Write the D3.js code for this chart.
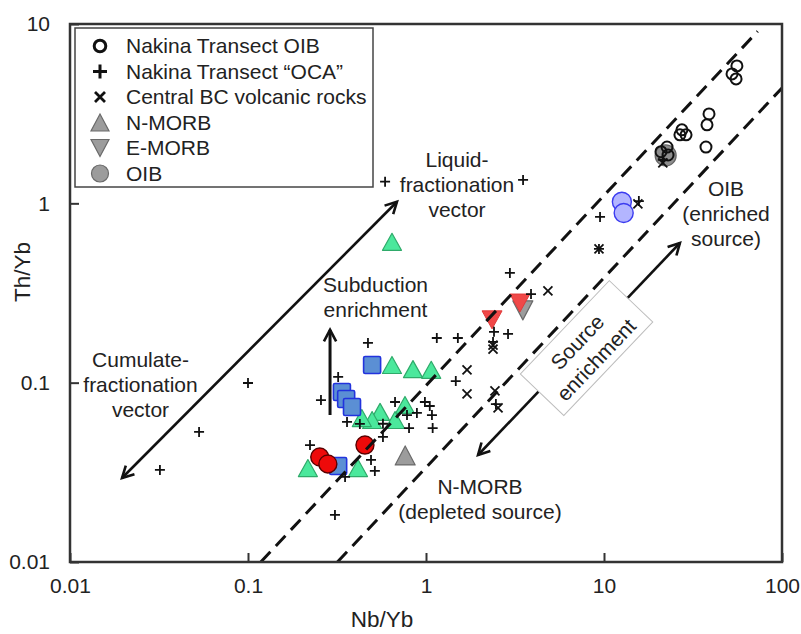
<!DOCTYPE html>
<html>
<head>
<meta charset="utf-8">
<script src="https://cdn.jsdelivr.net/npm/d3@7"></script>
<style>
  body { margin: 0; background: #fff; }
  svg { display: block; }
  text { font-family: "Liberation Sans", Arial, sans-serif; fill: #222; }
</style>
</head>
<body>
<svg id="chart" width="801" height="634"></svg>
<script>
// ---- Data: [Nb/Yb, Th/Yb] ----
const nakinaOIB = [[55.8,5.84],[52.4,5.27],[55.2,4.94],[38.9,3.15],[37.9,2.74],[37.4,2.06],
  [27.4,2.57],[26.7,2.41],[28.9,2.41],[22.6,2.06],[20.9,1.94],[22.9,1.86]];
const nakinaOCA = [[0.032,0.0326],[0.0531,0.0531],[0.1,0.0996],[0.589,1.32],[3.51,1.35],
  [0.223,0.0449],[0.308,0.0183],[0.36,0.0604],[0.425,0.0589],[0.472,0.1665],[0.321,0.1077],
  [0.257,0.08],[0.67,0.078],[0.491,0.0371],[0.516,0.0322],[0.573,0.0498],[0.351,0.0298],
  [1.15,0.1775],[1.51,0.1775],[1.47,0.102],[0.986,0.078],[1.05,0.0741],[0.889,0.0678],
  [1.08,0.066],[0.782,0.066],[0.803,0.0558],[1.09,0.0558],[2.96,0.409],[3.89,0.312],
  [2.41,0.192],[2.89,0.187],[2.38,0.1687],[9.5,0.84],[9.37,0.557],[15.7,1.03],[21.4,1.75],
  [0.573,0.059],[2.47,0.076]];
const centralBC = [[4.84,0.325],[1.7,0.118],[1.7,0.0865],[2.44,0.0899],[2.54,0.0723],
  [2.38,0.162],[2.38,0.154],[15.5,0.992],[9.37,0.557],[21.4,1.68]];
const greenTriangles = [[0.644,0.61],[0.644,0.1255],[0.845,0.119],[1.07,0.118],[0.762,0.0751],
  [0.552,0.0687],[0.498,0.0619],[0.67,0.0619],[0.436,0.0635],[0.217,0.0334],[0.415,0.0334]];
const blueSquares = [[0.337,0.0887],[0.356,0.0811],[0.384,0.0732],[0.498,0.1255],[0.321,0.0343]];
const redCircles = [[0.253,0.0385],[0.281,0.0352],[0.454,0.0449]];
const redTriangles = [[2.35,0.224],[3.37,0.278]];
const blueCircles = [[12.6,1.02],[12.9,0.883]];
const nMORB = [[0.764,0.0393]];
const eMORB = [[3.5,0.253]];
const oib = [[22.2,1.85]];

// Array boundaries (dashed) and vectors
const arrayUpper = [[0.118,0.01],[73,9.1]];
const arrayLower = [[0.318,0.01],[100,4.4]];
const fractionationVector = [[0.0196,0.0294],[0.687,1.02]];
const subductionVector = [[0.289,0.066],[0.289,0.197]];
const sourceVector = [[1.96,0.0395],[26.7,0.601]];
const sourceBoxCentre = [7.98,0.156];

// Axes
const xTickValues = [0.01,0.1,1,10,100];
const xTickLabels = ["0.01","0.1","1","10","100"];
const yTickValues = [0.01,0.1,1,10];
const yTickLabels = ["0.01","0.1","1","10"];
const xTitle = "Nb/Yb", yTitle = "Th/Yb";

const legendItems = [
  {label:"Nakina Transect OIB", sym:"ring"},
  {label:"Nakina Transect \u201COCA\u201D", sym:"plus"},
  {label:"Central BC volcanic rocks", sym:"cross"},
  {label:"N-MORB", sym:"triUp"},
  {label:"E-MORB", sym:"triDown"},
  {label:"OIB", sym:"disc"}
];

// ---- Layout ----
const P = {left:70, right:782, top:24, bottom:562};
const FONT = 21;
const svg = d3.select("#chart");
const x = d3.scaleLog().domain([0.01,100]).range([P.left,P.right]);
const y = d3.scaleLog().domain([0.01,10]).range([P.bottom,P.top]);

svg.append("defs").append("clipPath").attr("id","plotClip")
  .append("rect").attr("x",P.left).attr("y",P.top)
  .attr("width",P.right-P.left).attr("height",P.bottom-P.top);

// minor tick values for each decade
function minors(lo, hi) {
  const out = [];
  for (let e = Math.log10(lo); e < Math.log10(hi); e++)
    for (let k = 2; k <= 9; k++) out.push(k*Math.pow(10,e));
  return out;
}
const axisColor = "#333";
const gx = svg.append("g").attr("transform",`translate(0,${P.bottom})`);
gx.call(d3.axisBottom(x).tickValues(minors(0.01,100)).tickSize(-6).tickFormat(""));
gx.call(d3.axisBottom(x).tickValues(xTickValues).tickSize(-9).tickPadding(16)
  .tickFormat((d,i)=>xTickLabels[i]));
const gy = svg.append("g").attr("transform",`translate(${P.left},0)`);
gy.call(d3.axisLeft(y).tickValues(minors(0.01,10)).tickSize(-6).tickFormat(""));
gy.call(d3.axisLeft(y).tickValues(yTickValues).tickSize(-9).tickPadding(20)
  .tickFormat((d,i)=>yTickLabels[i]));
svg.selectAll(".domain").remove();
svg.selectAll(".tick line").attr("stroke",axisColor).attr("stroke-width",2);
svg.selectAll(".tick text").attr("font-size",FONT).attr("fill","#222")
  .attr("font-family","Liberation Sans, Arial, sans-serif");

// ---- Symbol painters ----
const pts = svg.append("g");
function triPath(cx, cy, w, h, down) {
  return down
    ? `M${cx-w/2},${cy-h/2}L${cx+w/2},${cy-h/2}L${cx},${cy+h/2}Z`
    : `M${cx},${cy-h/2}L${cx+w/2},${cy+h/2}L${cx-w/2},${cy+h/2}Z`;
}
function drawTri(data, w, h, down, fill, stroke, sw) {
  pts.selectAll(null).data(data).enter().append("path")
    .attr("d", d => triPath(x(d[0]), y(d[1]), w, h, down))
    .attr("fill",fill).attr("stroke",stroke).attr("stroke-width",sw).attr("stroke-linejoin","round");
}
function drawCircle(data, r, fill, stroke, sw) {
  pts.selectAll(null).data(data).enter().append("circle")
    .attr("cx",d=>x(d[0])).attr("cy",d=>y(d[1])).attr("r",r)
    .attr("fill",fill).attr("stroke",stroke).attr("stroke-width",sw);
}
function drawSquare(data, s, fill, stroke, sw) {
  pts.selectAll(null).data(data).enter().append("rect")
    .attr("x",d=>x(d[0])-s/2).attr("y",d=>y(d[1])-s/2).attr("width",s).attr("height",s)
    .attr("rx",1.5).attr("fill",fill).attr("stroke",stroke).attr("stroke-width",sw);
}
function drawPlus(data, a, sw) {
  pts.selectAll(null).data(data).enter().append("path")
    .attr("d",d=>{const cx=x(d[0]),cy=y(d[1]);return `M${cx-a},${cy}H${cx+a}M${cx},${cy-a}V${cy+a}`;})
    .attr("stroke","#111").attr("stroke-width",sw).attr("fill","none");
}
function drawCross(data, a, sw) {
  pts.selectAll(null).data(data).enter().append("path")
    .attr("d",d=>{const cx=x(d[0]),cy=y(d[1]);return `M${cx-a},${cy-a}L${cx+a},${cy+a}M${cx-a},${cy+a}L${cx+a},${cy-a}`;})
    .attr("stroke","#111").attr("stroke-width",sw).attr("fill","none");
}

const grayFill = "#9c9c9c", grayStroke = "#6a6a6a";
drawTri(eMORB, 20, 19, true, grayFill, grayStroke, 1.2);
drawTri(nMORB, 20, 19, false, grayFill, grayStroke, 1.2);
drawCircle(oib, 10.5, "#8e8e8e", "#666", 1.2);
drawTri(greenTriangles, 19, 17, false, "#4be89c", "#2faa6a", 1.2);
drawSquare(blueSquares, 17, "#5b8fd4", "#2233dd", 1.6);
drawCircle(redCircles, 9, "#ee0a0a", "#5a0000", 1.4);
drawTri(redTriangles, 20, 18, true, "#f04848", "#e03a3a", 1);
drawCircle(blueCircles, 9.5, "#b3b5ff", "#3b3bf0", 1.4);
drawCircle(nakinaOIB, 5.5, "none", "#111", 2);
drawPlus(nakinaOCA, 5, 1.8);
drawCross(centralBC, 4.5, 1.8);

// ---- Dashed array boundaries ----
const lines = svg.append("g").attr("clip-path","url(#plotClip)");
[arrayUpper, arrayLower].forEach(seg => {
  lines.append("line")
    .attr("x1",x(seg[0][0])).attr("y1",y(seg[0][1]))
    .attr("x2",x(seg[1][0])).attr("y2",y(seg[1][1]))
    .attr("stroke","#111").attr("stroke-width",3).attr("stroke-dasharray","14,8");
});

// ---- Vectors ----
const ann = svg.append("g");
function head(tip, from) {
  const ang = Math.atan2(tip[1]-from[1], tip[0]-from[0]);
  const L = 13, phi = 28*Math.PI/180;
  const p1 = [tip[0]-L*Math.cos(ang-phi), tip[1]-L*Math.sin(ang-phi)];
  const p2 = [tip[0]-L*Math.cos(ang+phi), tip[1]-L*Math.sin(ang+phi)];
  ann.append("path").attr("d",`M${p1}L${tip}L${p2}`)
    .attr("fill","none").attr("stroke","#111").attr("stroke-width",2.6).attr("stroke-linejoin","miter");
}
function vector(seg, both, sw) {
  const a = [x(seg[0][0]), y(seg[0][1])], b = [x(seg[1][0]), y(seg[1][1])];
  ann.append("line").attr("x1",a[0]).attr("y1",a[1]).attr("x2",b[0]).attr("y2",b[1])
    .attr("stroke","#111").attr("stroke-width",sw);
  head(b, a);
  if (both) head(a, b);
}
vector(fractionationVector, true, 2.6);
vector(subductionVector, false, 3);
vector(sourceVector, true, 2.6);

// Source enrichment box
const bc = [x(sourceBoxCentre[0]), y(sourceBoxCentre[1])];
const box = ann.append("g").attr("transform",`translate(${bc[0]},${bc[1]}) rotate(-46.4)`);
box.append("rect").attr("x",-64.5).attr("y",-30).attr("width",129).attr("height",60)
  .attr("fill","#fff").attr("stroke","#bdbdbd").attr("stroke-width",1);
box.append("text").attr("x",-2).attr("y",-10.5+7).attr("text-anchor","middle")
  .attr("font-size",FONT).text("Source");
box.append("text").attr("x",-2).attr("y",15.5+7).attr("text-anchor","middle")
  .attr("font-size",FONT).text("enrichment");

// ---- Labels ----
function label(lines_, cx, baselines) {
  lines_.forEach((t,i) => ann.append("text").attr("x",cx).attr("y",baselines[i])
    .attr("text-anchor","middle").attr("font-size",FONT).text(t));
}
label(["Liquid-","fractionation","vector"], 457, [167,192,217]);
label(["Subduction","enrichment"], 375.5, [292,317]);
label(["Cumulate-","fractionation","vector"], 140.5, [367,392,417]);
label(["OIB","(enriched","source)"], 726, [196,221,246]);
label(["N-MORB","(depleted source)"], 480, [494,519]);

// ---- Frame ----
svg.append("rect").attr("x",P.left).attr("y",P.top)
  .attr("width",P.right-P.left).attr("height",P.bottom-P.top)
  .attr("fill","none").attr("stroke",axisColor).attr("stroke-width",2.5);

// ---- Axis titles ----
svg.append("text").attr("x",382).attr("y",627).attr("text-anchor","middle")
  .attr("font-size",22.5).text(xTitle);
svg.append("text").attr("transform","translate(30,272) rotate(-90)").attr("text-anchor","middle")
  .attr("font-size",22.5).text(yTitle);

// ---- Legend ----
const lg = svg.append("g");
lg.append("rect").attr("x",75).attr("y",28).attr("width",298).attr("height",159)
  .attr("fill","#fff").attr("stroke","#444").attr("stroke-width",1.5);
legendItems.forEach((it,i) => {
  const cy = 46 + i*25.5, cx = 100;
  const g = lg.append("g");
  if (it.sym === "ring") g.append("circle").attr("cx",cx).attr("cy",cy).attr("r",5.8)
      .attr("fill","none").attr("stroke","#111").attr("stroke-width",3);
  if (it.sym === "plus") g.append("path").attr("d",`M${cx-7},${cy}H${cx+7}M${cx},${cy-7}V${cy+7}`)
      .attr("stroke","#111").attr("stroke-width",3);
  if (it.sym === "cross") g.append("path").attr("d",`M${cx-5},${cy-5}L${cx+5},${cy+5}M${cx-5},${cy+5}L${cx+5},${cy-5}`)
      .attr("stroke","#111").attr("stroke-width",2.8);
  if (it.sym === "triUp") g.append("path").attr("d",triPath(cx,cy,18,17,false))
      .attr("fill",grayFill).attr("stroke",grayStroke).attr("stroke-width",1.2);
  if (it.sym === "triDown") g.append("path").attr("d",triPath(cx,cy,18,17,true))
      .attr("fill",grayFill).attr("stroke",grayStroke).attr("stroke-width",1.2);
  if (it.sym === "disc") g.append("circle").attr("cx",cx).attr("cy",cy).attr("r",8.5)
      .attr("fill",grayFill).attr("stroke",grayStroke).attr("stroke-width",1.2);
  g.append("text").attr("x",126).attr("y",cy+7.3).attr("font-size",FONT).text(it.label);
});
</script>
</body>
</html>
